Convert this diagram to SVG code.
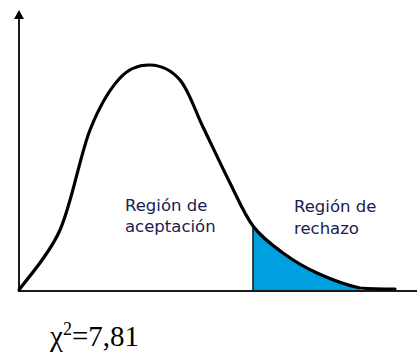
<svg xmlns="http://www.w3.org/2000/svg" width="417" height="353" viewBox="0 0 417 353">
  <defs>
    <style>
      .axis { stroke: #1a1a1a; stroke-width: 2; fill: none; }
      .curve { stroke: #000; stroke-width: 3.2; fill: none; stroke-linejoin: round; stroke-linecap: round; }
      .lbl { font-family: "DejaVu Sans", Verdana, sans-serif; font-size: 16.5px; fill: #20204e; }
      .math { font-family: "Liberation Serif", "Times New Roman", serif; font-size: 29px; fill: #000; }
    </style>
    <marker id="arrow" markerWidth="10" markerHeight="9" refX="5" refY="1" orient="auto-start-reverse" markerUnits="userSpaceOnUse" viewBox="0 0 10 9">
      <path d="M5,0 L10,9 L0,9 Z" fill="#000"/>
    </marker>
  </defs>
  <rect width="417" height="353" fill="#fff"/>

  <g id="rejection-area">
    <path d="M253,226 C261.8,237.7 272.3,245.2 283,253 C293.7,260.8 304.2,267.2 317,273 C329.8,278.8 347,285.3 360,288 L360,291 L253,291 Z" fill="#00a0e0"/>
  </g>

  <g id="connectors">
    <line class="axis" x1="19" y1="291" x2="19" y2="18"/>
    <path d="M19,10 L24,19 L14,19 Z" fill="#000"/>
    <line class="axis" x1="18" y1="291" x2="417" y2="291"/>
    <line x1="253" y1="226" x2="253" y2="291" stroke="#1a1a1a" stroke-width="1.6"/>
  </g>

  <g id="curve">
    <path class="curve" d="M19,290 C25.8,280 48.2,256.7 60,230 C71.8,203.3 80,155.3 90,130 C100,104.7 110,88.8 120,78 C130,67.2 140,64.7 150,65 C160,65.3 171.2,69.7 180,80 C188.8,90.3 194.7,109.8 203,127 C211.3,144.2 221.7,166.5 230,183 C238.3,199.5 244.2,214.3 253,226 C261.8,237.7 272.3,245.2 283,253 C293.7,260.8 304.2,267.2 317,273 C329.8,278.8 347,285.3 360,288 C373,289 389.2,289 395,289"/>
  </g>

  <g id="label-acceptance">
    <text class="lbl" x="125" y="211">Región de</text>
    <text class="lbl" x="125" y="232">aceptación</text>
  </g>

  <g id="label-rejection">
    <text class="lbl" x="294" y="212">Región de</text>
    <text class="lbl" x="294" y="234">rechazo</text>
  </g>

  <g id="critical-value">
    <text class="math" x="50" y="346">χ<tspan font-size="18" dy="-11">2</tspan><tspan dy="11">=7,81</tspan></text>
  </g>
</svg>
